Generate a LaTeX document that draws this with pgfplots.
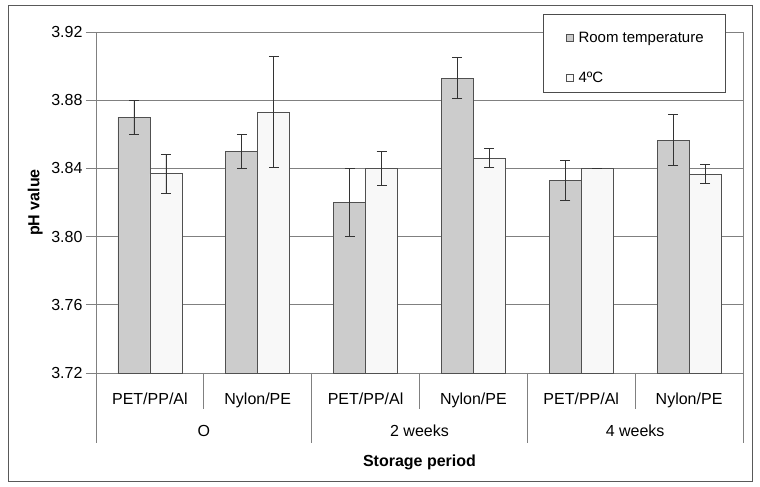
\documentclass[border=0pt]{standalone}
\usepackage{fontspec}
\setmainfont{Liberation Sans}
\usepackage{pgfplots}
\pgfplotsset{compat=1.18}
\definecolor{roomgray}{HTML}{CCCCCC}
\definecolor{coldwhite}{HTML}{F8F8F8}
\definecolor{gridgray}{HTML}{808080}
\definecolor{edgegray}{HTML}{505050}
\newcommand{\lbl}{\fontsize{16}{19}\selectfont}

\begin{document}
\begin{tikzpicture}[x=1pt,y=1pt]
\useasboundingbox (0,0) rectangle (760,487);
\draw[black!65, line width=0.8pt] (8,6) rectangle (752,482);
\begin{axis}[
    at={(96pt,114pt)}, anchor=south west,
    width=647pt, height=341pt, scale only axis,
    clip=false,
    ybar=0pt, bar width=32pt,
    xmin=-0.5, xmax=5.5,
    ymin=3.72, ymax=3.92,
    ytick={3.72,3.76,3.80,3.84,3.88,3.92},
    y tick label style={/pgf/number format/.cd, fixed, fixed zerofill, precision=2, assume math mode=true},
    tick label style={font=\lbl},
    xtick={0,1,2,3,4,5},
    xticklabels={PET/PP/Al, Nylon/PE, PET/PP/Al, Nylon/PE, PET/PP/Al, Nylon/PE},
    x tick label style={anchor=base, yshift=-21pt},
    xtick style={draw=none},
    ytick pos=left,
    tick align=outside,
    major tick length=10pt,
    ymajorgrids,
    grid style={gridgray, line width=0.8pt},
    axis line style={gridgray, line width=0.8pt},
    ytick style={gridgray, line width=0.8pt},
    xlabel={Storage period},
    xlabel style={font=\lbl\bfseries, at={(axis description cs:0.5,0)}, anchor=base, yshift=-93pt},
    ylabel={pH value},
    ylabel style={font=\lbl\bfseries, at={(axis description cs:-0.094,0.5)}, anchor=center},
    legend image code/.code={\path[draw=none, fill=none] (0pt,0pt) -- (18pt,0pt);
        \draw[#1, line width=0.6pt] (11pt,-3.5pt) rectangle (18pt,3.5pt);},
    legend style={at={(axis description cs:0.691,1.038)}, anchor=north west,
        draw=none, fill=none, font=\fontsize{15}{18}\selectfont,
        inner xsep=12pt, inner ysep=11pt, row sep=24pt,
        /tikz/every odd column/.append style={column sep=3pt}},
    legend cell align=left,
]
\addplot[fill=roomgray, draw=edgegray, line width=0.8pt,
    error bars/.cd, y dir=both, y explicit,
    error bar style={line width=0.8pt, black!80},
    error mark options={rotate=90, mark size=5pt, line width=0.8pt, black!80}]
coordinates {
    (0,3.870) +- (0,0.010)
    (1,3.850) +- (0,0.010)
    (2,3.820) +- (0,0.020)
    (3,3.893) +- (0,0.012)
    (4,3.833) +- (0,0.0115)
    (5,3.8565) +- (0,0.015)
};
\addplot[fill=coldwhite, draw=edgegray, line width=0.8pt,
    error bars/.cd, y dir=both, y explicit,
    error bar style={line width=0.8pt, black!80},
    error mark options={rotate=90, mark size=5pt, line width=0.8pt, black!80}]
coordinates {
    (0,3.837) +- (0,0.0115)
    (1,3.873) +- (0,0.0325)
    (2,3.840) +- (0,0.010)
    (3,3.846) +- (0,0.0057)
    (4,3.840) +- (0,0)
    (5,3.8367) +- (0,0.0056)
};
\legend{Room temperature, 4ºC}
% legend frame
\draw[black!70, fill=white, line width=0.8pt] (axis description cs:0.6909,1.0528) rectangle (axis description cs:0.9722,0.824);
% category separators
\draw[gridgray, line width=0.8pt] (axis cs:0.5,3.72) -- ([yshift=-36pt]axis cs:0.5,3.72);
\draw[gridgray, line width=0.8pt] (axis cs:2.5,3.72) -- ([yshift=-36pt]axis cs:2.5,3.72);
\draw[gridgray, line width=0.8pt] (axis cs:4.5,3.72) -- ([yshift=-36pt]axis cs:4.5,3.72);
% period separators
\draw[gridgray, line width=0.8pt] (axis cs:-0.5,3.72) -- ([yshift=-70pt]axis cs:-0.5,3.72);
\draw[gridgray, line width=0.8pt] (axis cs:1.5,3.72) -- ([yshift=-70pt]axis cs:1.5,3.72);
\draw[gridgray, line width=0.8pt] (axis cs:3.5,3.72) -- ([yshift=-70pt]axis cs:3.5,3.72);
\draw[gridgray, line width=0.8pt] (axis cs:5.5,3.72) -- ([yshift=-70pt]axis cs:5.5,3.72);
\node[font=\lbl, anchor=base, yshift=-63pt] at (axis cs:0.5,3.72) {O};
\node[font=\lbl, anchor=base, yshift=-63pt] at (axis cs:2.5,3.72) {2 weeks};
\node[font=\lbl, anchor=base, yshift=-63pt] at (axis cs:4.5,3.72) {4 weeks};
\end{axis}
\end{tikzpicture}
\end{document}
